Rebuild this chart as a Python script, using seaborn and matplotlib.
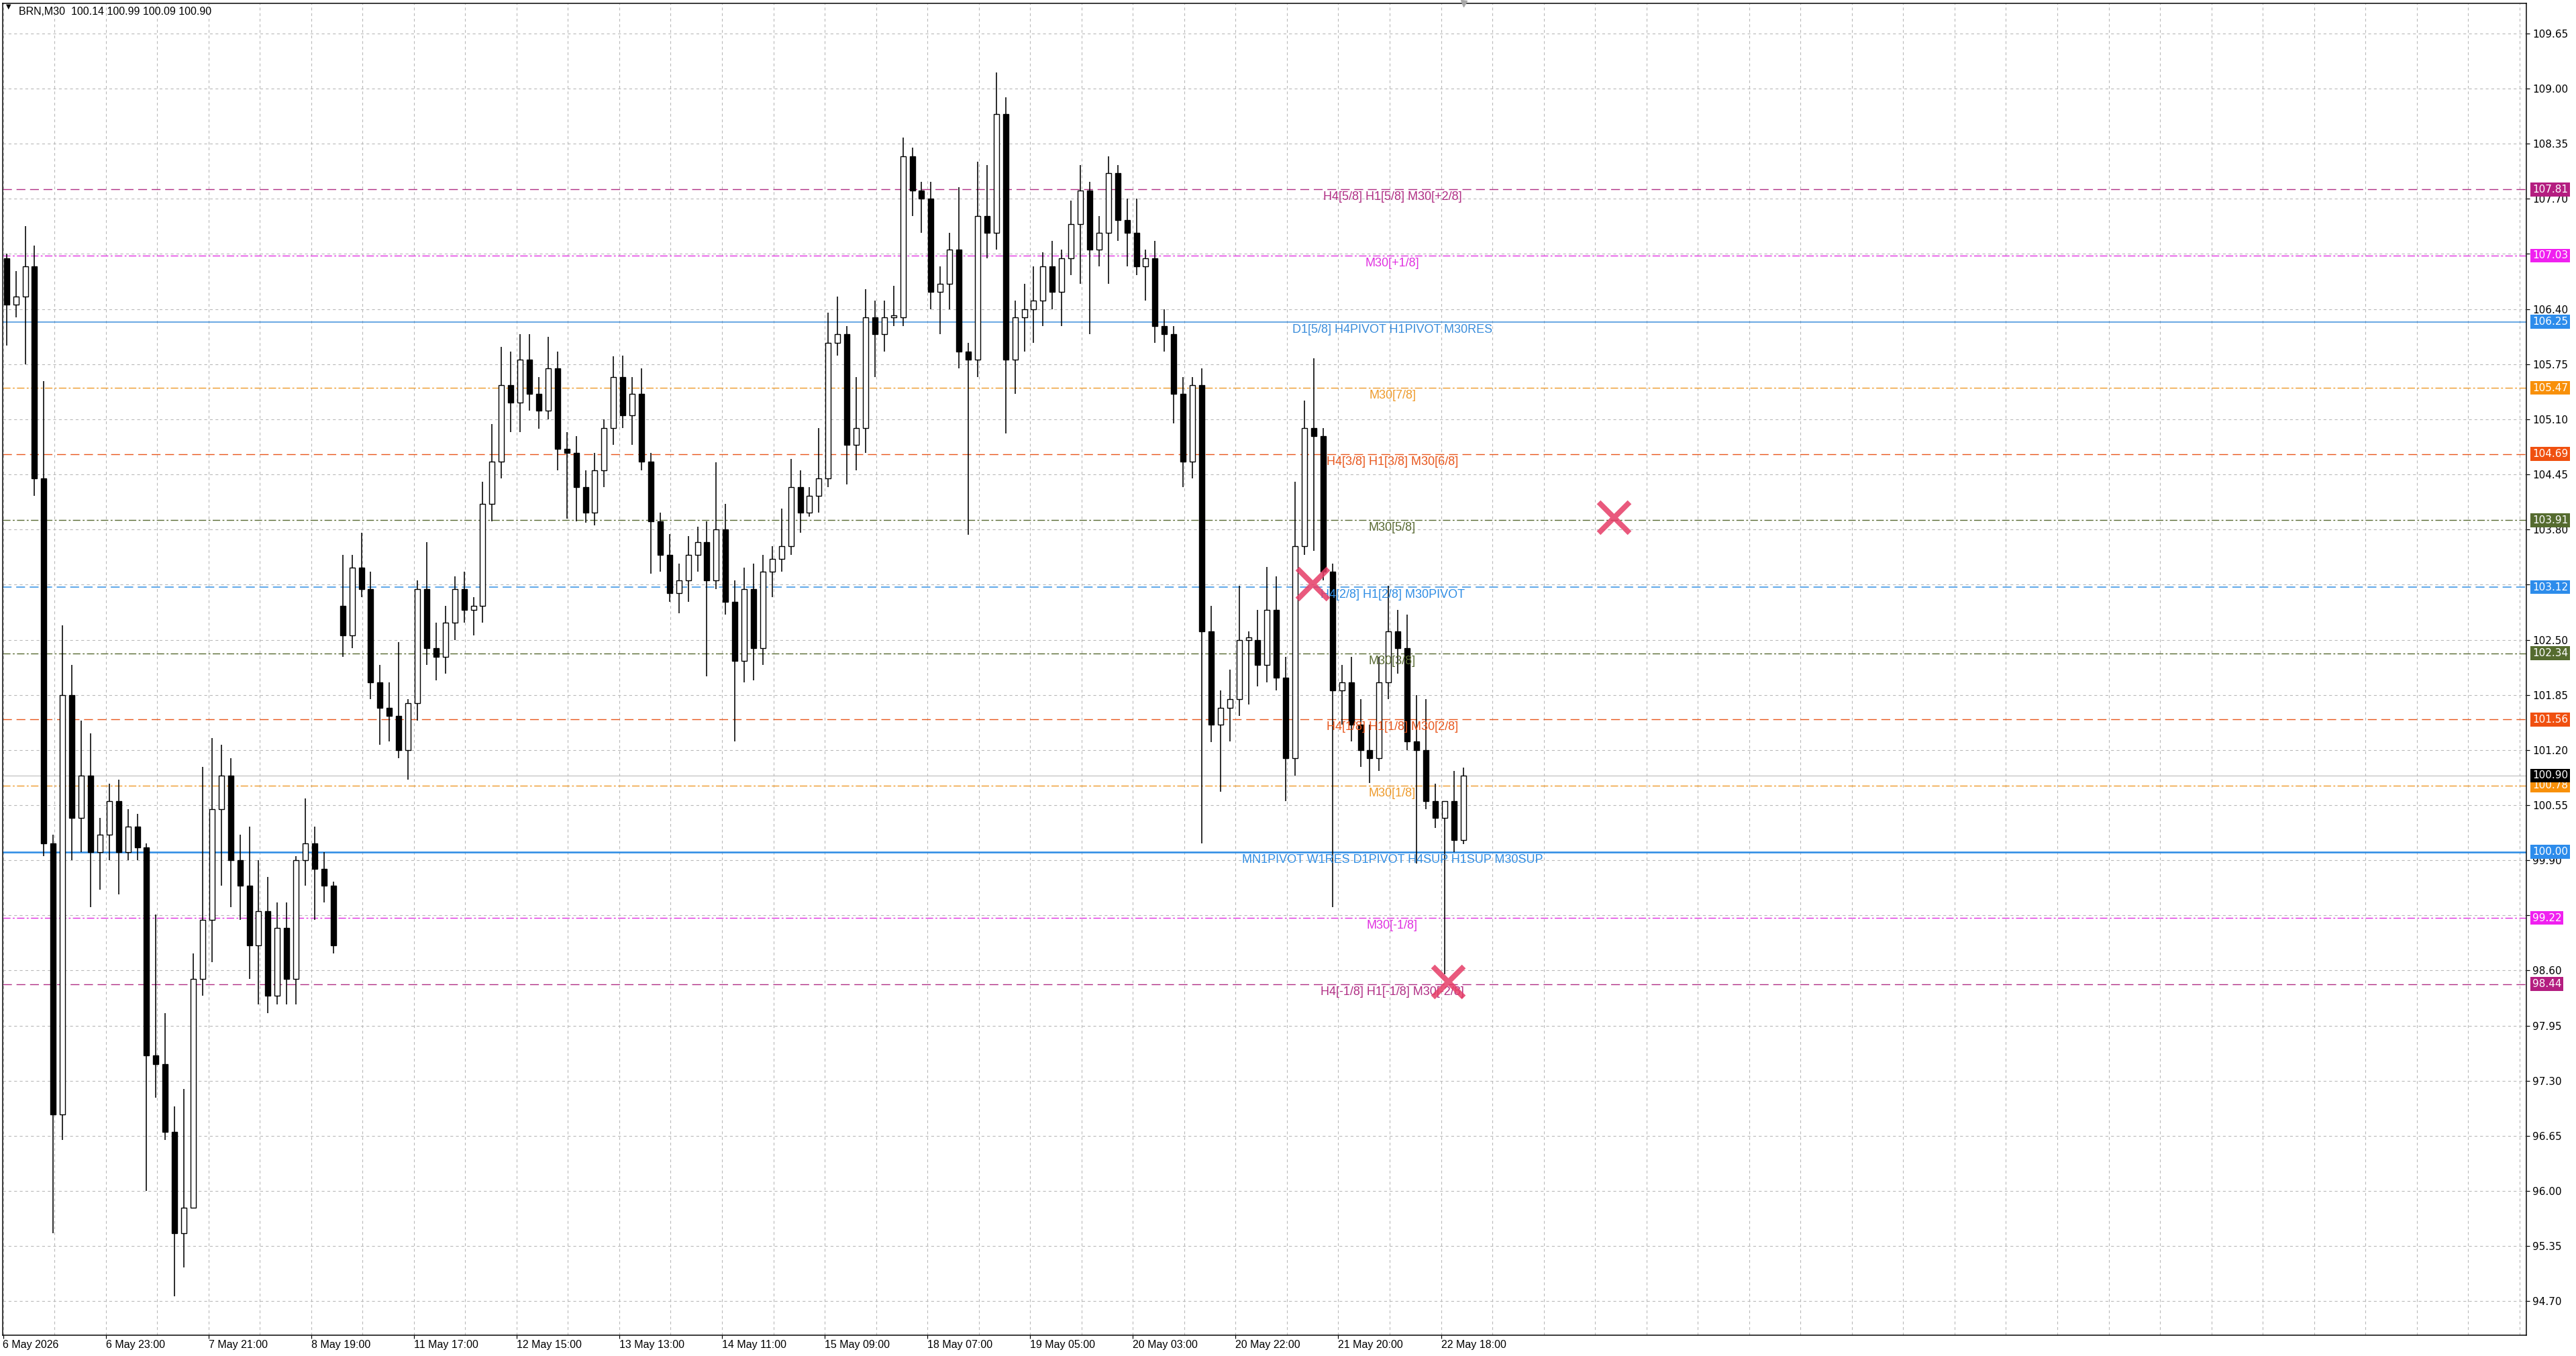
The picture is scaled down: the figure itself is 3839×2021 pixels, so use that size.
import numpy as np
import pandas as pd
import matplotlib
matplotlib.use("Agg")
import matplotlib.pyplot as plt
import matplotlib.transforms as mtransforms
import seaborn as sns

# BRN M30 chart, one candle here = 4 bars of M30 (2 hours)
opens = [107.00, 106.45, 106.55, 106.90, 104.40, 100.10, 96.90, 101.85, 100.40, 100.90,
         100.00, 100.20, 100.60, 100.00, 100.30, 100.05, 97.60, 97.50, 96.70, 95.50,
         95.80, 98.50, 99.20, 100.50, 100.90, 99.90, 99.60, 98.90, 99.30, 98.30,
         99.10, 98.50, 99.90, 100.10, 99.80, 99.60, 102.90, 102.55, 103.35, 103.10,
         102.00, 101.70, 101.60, 101.20, 101.75, 103.10, 102.40, 102.30, 102.70, 103.10,
         102.85, 102.90, 104.10, 104.60, 105.50, 105.30, 105.80, 105.40, 105.20, 105.70,
         104.75, 104.70, 104.30, 104.00, 104.50, 105.00, 105.60, 105.15, 105.40, 104.60,
         103.90, 103.50, 103.05, 103.20, 103.50, 103.65, 103.20, 103.80, 102.95, 102.25,
         103.10, 102.40, 103.30, 103.45, 103.60, 104.30, 104.00, 104.20, 104.40, 106.00,
         106.10, 104.80, 105.00, 106.30, 106.10, 106.30, 106.30, 108.20, 107.80, 107.70,
         106.60, 106.70, 107.10, 105.90, 105.80, 107.50, 107.30, 108.70, 105.80, 106.30,
         106.40, 106.50, 106.90, 106.60, 107.00, 107.40, 107.80, 107.10, 107.30, 108.00,
         107.45, 107.30, 106.90, 107.00, 106.20, 106.10, 105.40, 104.60, 105.50, 102.60,
         101.50, 101.70, 101.80, 102.50, 102.50, 102.20, 102.85, 102.05, 101.10, 103.60,
         105.00, 104.90, 103.30, 101.90, 102.00, 101.50, 101.20, 101.10, 102.00, 102.60,
         102.40, 101.30, 101.20, 100.60, 100.40, 100.60, 100.14]
highs = [107.05, 106.85, 107.38, 107.15, 105.55, 100.20, 102.67, 102.20, 101.55, 101.40,
         100.40, 100.80, 100.85, 100.50, 100.45, 100.10, 99.26, 98.10, 97.00, 97.20,
         98.80, 101.00, 101.34, 101.26, 101.10, 100.20, 100.30, 99.90, 99.70, 99.40,
         99.40, 99.95, 100.63, 100.30, 100.00, 99.65, 103.50, 103.50, 103.76, 103.30,
         102.20, 102.00, 102.47, 101.80, 103.20, 103.65, 102.70, 102.90, 103.25, 103.30,
         103.00, 104.36, 105.04, 105.95, 105.90, 106.10, 106.10, 105.60, 106.07, 105.90,
         104.95, 104.90, 104.50, 104.70, 105.10, 105.84, 105.85, 105.60, 105.70, 104.70,
         104.00, 103.75, 103.40, 103.72, 103.83, 103.90, 104.59, 104.10, 103.20, 103.35,
         103.40, 103.50, 103.60, 104.05, 104.63, 104.50, 104.30, 105.00, 106.36, 106.55,
         106.20, 105.60, 106.63, 106.50, 106.50, 106.67, 108.42, 108.30, 107.90, 107.90,
         106.90, 107.30, 107.84, 106.00, 108.14, 108.10, 109.19, 108.90, 106.50, 106.70,
         106.90, 107.07, 107.20, 107.10, 107.68, 108.10, 107.90, 107.50, 108.20, 108.10,
         107.70, 107.70, 107.10, 107.20, 106.40, 106.20, 105.60, 105.60, 105.70, 102.90,
         101.90, 102.15, 103.14, 102.60, 102.85, 103.36, 103.25, 102.30, 104.36, 105.32,
         105.82, 105.00, 103.40, 102.20, 102.30, 101.80, 101.50, 102.30, 103.14, 102.85,
         102.80, 101.85, 101.80, 100.80, 100.60, 100.95, 100.99]
lows = [105.97, 106.30, 105.75, 104.20, 99.95, 95.50, 96.60, 99.90, 100.00, 99.35,
        99.55, 99.90, 99.50, 99.90, 99.90, 96.00, 97.10, 96.60, 94.76, 95.10,
        95.80, 98.30, 98.70, 99.60, 99.35, 99.20, 98.50, 98.20, 98.10, 98.20,
        98.20, 98.20, 99.60, 99.20, 99.40, 98.80, 102.30, 102.40, 103.00, 101.80,
        101.26, 101.30, 101.10, 100.85, 101.55, 102.20, 102.02, 102.10, 102.50, 102.70,
        102.55, 102.70, 103.90, 104.40, 104.95, 104.95, 105.20, 104.99, 105.10, 104.50,
        103.93, 103.90, 103.88, 103.85, 104.30, 104.80, 105.00, 104.80, 104.50, 103.28,
        103.30, 102.95, 102.81, 102.95, 103.30, 102.07, 103.10, 102.80, 101.30, 102.00,
        102.02, 102.20, 103.00, 103.30, 103.50, 103.76, 103.95, 104.00, 104.30, 105.85,
        104.33, 104.50, 104.70, 105.60, 105.90, 106.20, 106.20, 107.50, 107.30, 106.40,
        106.10, 106.40, 105.70, 103.74, 105.60, 107.00, 107.10, 104.93, 105.40, 105.90,
        106.00, 106.20, 106.40, 106.20, 106.80, 106.70, 106.10, 106.90, 106.70, 107.20,
        106.90, 106.80, 106.50, 106.00, 105.90, 105.05, 104.30, 104.40, 100.10, 101.29,
        100.71, 101.30, 101.60, 101.74, 101.95, 102.00, 101.90, 100.60, 100.90, 103.50,
        103.55, 103.20, 99.35, 101.50, 101.30, 101.00, 100.81, 100.95, 101.80, 102.10,
        101.20, 99.86, 100.50, 100.28, 98.56, 100.00, 100.09]
closes = [106.45, 106.55, 106.90, 104.40, 100.10, 96.90, 101.85, 100.40, 100.90, 100.00,
          100.20, 100.60, 100.00, 100.30, 100.05, 97.60, 97.50, 96.70, 95.50, 95.80,
          98.50, 99.20, 100.50, 100.90, 99.90, 99.60, 98.90, 99.30, 98.30, 99.10,
          98.50, 99.90, 100.10, 99.80, 99.60, 98.90, 102.55, 103.35, 103.10, 102.00,
          101.70, 101.60, 101.20, 101.75, 103.10, 102.40, 102.30, 102.70, 103.10, 102.85,
          102.90, 104.10, 104.60, 105.50, 105.30, 105.80, 105.40, 105.20, 105.70, 104.75,
          104.70, 104.30, 104.00, 104.50, 105.00, 105.60, 105.15, 105.40, 104.60, 103.90,
          103.50, 103.05, 103.20, 103.50, 103.65, 103.20, 103.80, 102.95, 102.25, 103.10,
          102.40, 103.30, 103.45, 103.60, 104.30, 104.00, 104.20, 104.40, 106.00, 106.10,
          104.80, 105.00, 106.30, 106.10, 106.30, 106.30, 108.20, 107.80, 107.70, 106.60,
          106.70, 107.10, 105.90, 105.80, 107.50, 107.30, 108.70, 105.80, 106.30, 106.40,
          106.50, 106.90, 106.60, 107.00, 107.40, 107.80, 107.10, 107.30, 108.00, 107.45,
          107.30, 106.90, 107.00, 106.20, 106.10, 105.40, 104.60, 105.50, 102.60, 101.50,
          101.70, 101.80, 102.50, 102.50, 102.20, 102.85, 102.05, 101.10, 103.60, 105.00,
          104.90, 103.30, 101.90, 102.00, 101.50, 101.20, 101.10, 102.00, 102.60, 102.40,
          101.30, 101.20, 100.60, 100.40, 100.60, 100.14, 100.90]
bars_per_candle = 4

time_labels = ["6 May 2026", "6 May 23:00", "7 May 21:00", "8 May 19:00", "11 May 17:00",
               "12 May 15:00", "13 May 13:00", "14 May 11:00", "15 May 09:00", "18 May 07:00",
               "19 May 05:00", "20 May 03:00", "20 May 22:00", "21 May 20:00", "22 May 18:00"]
label_step = 44  # bars between time labels

level_prices = [107.81, 107.03, 106.25, 105.47, 104.69, 103.91, 103.12,
                102.34, 101.56, 100.78, 100.00, 99.22, 98.44]
level_names = ["H4[5/8] H1[5/8] M30[+2/8]", "M30[+1/8]", "D1[5/8] H4PIVOT H1PIVOT M30RES",
               "M30[7/8]", "H4[3/8] H1[3/8] M30[6/8]", "M30[5/8]", "H4[2/8] H1[2/8] M30PIVOT",
               "M30[3/8]", "H4[1/8] H1[1/8] M30[2/8]", "M30[1/8]",
               "MN1PIVOT W1RES D1PIVOT H4SUP H1SUP M30SUP", "M30[-1/8]", "H4[-1/8] H1[-1/8] M30[-2/8]"]
level_colors = ["#B02E84", "#E030E0", "#3A8DDB", "#EE9A2A", "#E8561C", "#586A32", "#2F8DE4",
                "#586A32", "#E8561C", "#EE9A2A", "#2F8DE4", "#E030E0", "#B02E84"]
box_colors = ["#B41E80", "#F020F0", "#2D8CEB", "#F8900A", "#F05010", "#556B2F", "#2D8CEB",
              "#556B2F", "#F05010", "#F8900A", "#2D8CEB", "#F020F0", "#B41E80"]
level_styles = ["dash", "dashdot", "solid", "dashdot", "dash", "dashdot", "dash",
                "dashdot", "dash", "dashdot", "solid", "dashdot", "dash"]
level_widths = [1.4, 1.4, 1.5, 1.4, 1.4, 1.4, 1.5, 1.4, 1.4, 1.4, 2.6, 1.4, 1.4]

last_price = 100.90
title_text = "BRN,M30  100.14 100.99 100.09 100.90"

# signal crosses (bar index, price)
signal_bars = [561, 619, 690]
signal_prices = [103.16, 98.47, 103.94]

# ---- figure geometry (pixels) ----
W, H, DPI = 3839, 2021, 100
PX = 72 / DPI  # points per pixel
left_px, right_px, top_px, bottom_px = 4, 3765, 5, 1990
bar0_px, bar_px = 4.5, 3.479
label_bar = (2075 - bar0_px) / bar_px

sns.set_theme(style="white")
plt.rcParams['font.family'] = ['DejaVu Sans']
plt.rcParams['lines.scale_dashes'] = False
plt.rcParams['axes.linewidth'] = 1.5 * PX

fig = plt.figure(figsize=(W / DPI, H / DPI), dpi=DPI, facecolor='white')
ax = fig.add_axes([left_px / W, 1 - bottom_px / H,
                   (right_px - left_px) / W, (bottom_px - top_px) / H])
ax.set_facecolor('white')
ax.set_xlim((left_px - bar0_px) / bar_px, (right_px - bar0_px) / bar_px)
ax.set_ylim(94.30, 110.004)

# grid
yticks = np.round(np.arange(94.70, 109.66, 0.65), 2)
ax.set_yticks(yticks, [f"{v:.2f}" for v in yticks])
major_x = np.arange(len(time_labels)) * label_step
ax.set_xticks(major_x, time_labels)
ax.set_xticks(np.arange(22, 1081, 22), minor=True)
grid_kw = dict(color='#B8B8B8', lw=1.1 * PX, ls=(0, (3, 3)))
ax.grid(True, axis='y', which='major', **grid_kw)
ax.grid(True, axis='x', which='both', **grid_kw)
ax.set_axisbelow(True)

ax.yaxis.tick_right()
ax.tick_params(axis='y', which='major', right=True, left=False, length=5 * PX, width=1.2 * PX,
               pad=4 * PX, labelsize=11, colors='black', direction='out')
ax.tick_params(axis='x', which='major', bottom=True, length=5 * PX, width=1.2 * PX,
               pad=2 * PX, labelsize=11.5, colors='black', direction='out')
ax.tick_params(axis='x', which='minor', length=0)
for lbl in ax.get_xticklabels():
    lbl.set_ha('left')
    lbl.set_family(['Liberation Sans', 'DejaVu Sans'])
for sp in ax.spines.values():
    sp.set_visible(True)
    sp.set_color('black')
    sp.set_linewidth(1.5 * PX)

# level lines
dash_map = {'dash': (0, (9.5, 5)), 'dashdot': (0, (8, 2.5, 2, 2.5)), 'solid': '-'}
ytrans = mtransforms.blended_transform_factory(ax.transAxes, ax.transData)
box_x = 1 + (3774 - right_px) / (right_px - left_px)

ax.axhline(last_price, color='#C0C0C0', lw=1.2 * PX, zorder=1.5)
for p, name, c, bc, st, lw in zip(level_prices, level_names, level_colors,
                                  box_colors, level_styles, level_widths):
    ax.axhline(p, color=c, ls=dash_map[st], lw=lw * PX, zorder=1.6)
    ax.annotate(name, xy=(label_bar, p), xytext=(0, -3 * PX), textcoords='offset points',
                ha='center', va='top', color=c, fontsize=13,
                family=['Liberation Sans', 'DejaVu Sans'], zorder=6)
    ax.text(box_x, p, f"{p:.2f}", transform=ytrans, ha='left', va='center',
            color='white', fontsize=11, clip_on=False, zorder=10,
            bbox=dict(boxstyle='square,pad=0.18', fc=bc, ec='none'))
ax.text(box_x, last_price, f"{last_price:.2f}", transform=ytrans, ha='left', va='center',
        color='white', fontsize=11, clip_on=False, zorder=11,
        bbox=dict(boxstyle='square,pad=0.18', fc='black', ec='none'))

# candles
df = pd.DataFrame({'open': opens, 'high': highs, 'low': lows, 'close': closes})
df['x'] = np.arange(len(df)) * bars_per_candle + (bars_per_candle - 1) / 2
bull = df['close'] >= df['open']
body_bottom = df[['open', 'close']].min(axis=1)
body_height = (df['close'] - df['open']).abs().clip(lower=0.025)
ax.vlines(df['x'], df['low'], df['high'], color='black', lw=1.6 * PX, zorder=3)
ax.bar(df['x'][bull], body_height[bull], bottom=body_bottom[bull], width=2.3,
       facecolor='white', edgecolor='black', lw=1.4 * PX, zorder=4)
ax.bar(df['x'][~bull], body_height[~bull], bottom=body_bottom[~bull], width=2.3,
       facecolor='black', edgecolor='black', lw=1.4 * PX, zorder=4)

# signal crosses
sig = pd.DataFrame({'bar': signal_bars, 'price': signal_prices})
sns.scatterplot(data=sig, x='bar', y='price', marker='x', s=(46 * PX) ** 2,
                color='#E63C66', linewidth=8 * PX, alpha=0.85, ax=ax, zorder=7, legend=False)
ax.set_xlabel('')
ax.set_ylabel('')

# chart shift marker on top edge
ax.plot([df['x'].iloc[-1]], [110.004], marker='v', ms=9 * PX, color='#A8A8A8',
        clip_on=False, zorder=12, ls='none')

# header text
fig.text(9 / W, 1 - 10 / H, "\u25BC", fontsize=7, color='black', va='center', ha='left')
fig.text(28 / W, 1 - 17 / H, title_text, fontsize=11.5, color='black', va='center', ha='left',
         family=['Liberation Sans', 'DejaVu Sans'])

fig.savefig("out.png", dpi=DPI, facecolor='white')
